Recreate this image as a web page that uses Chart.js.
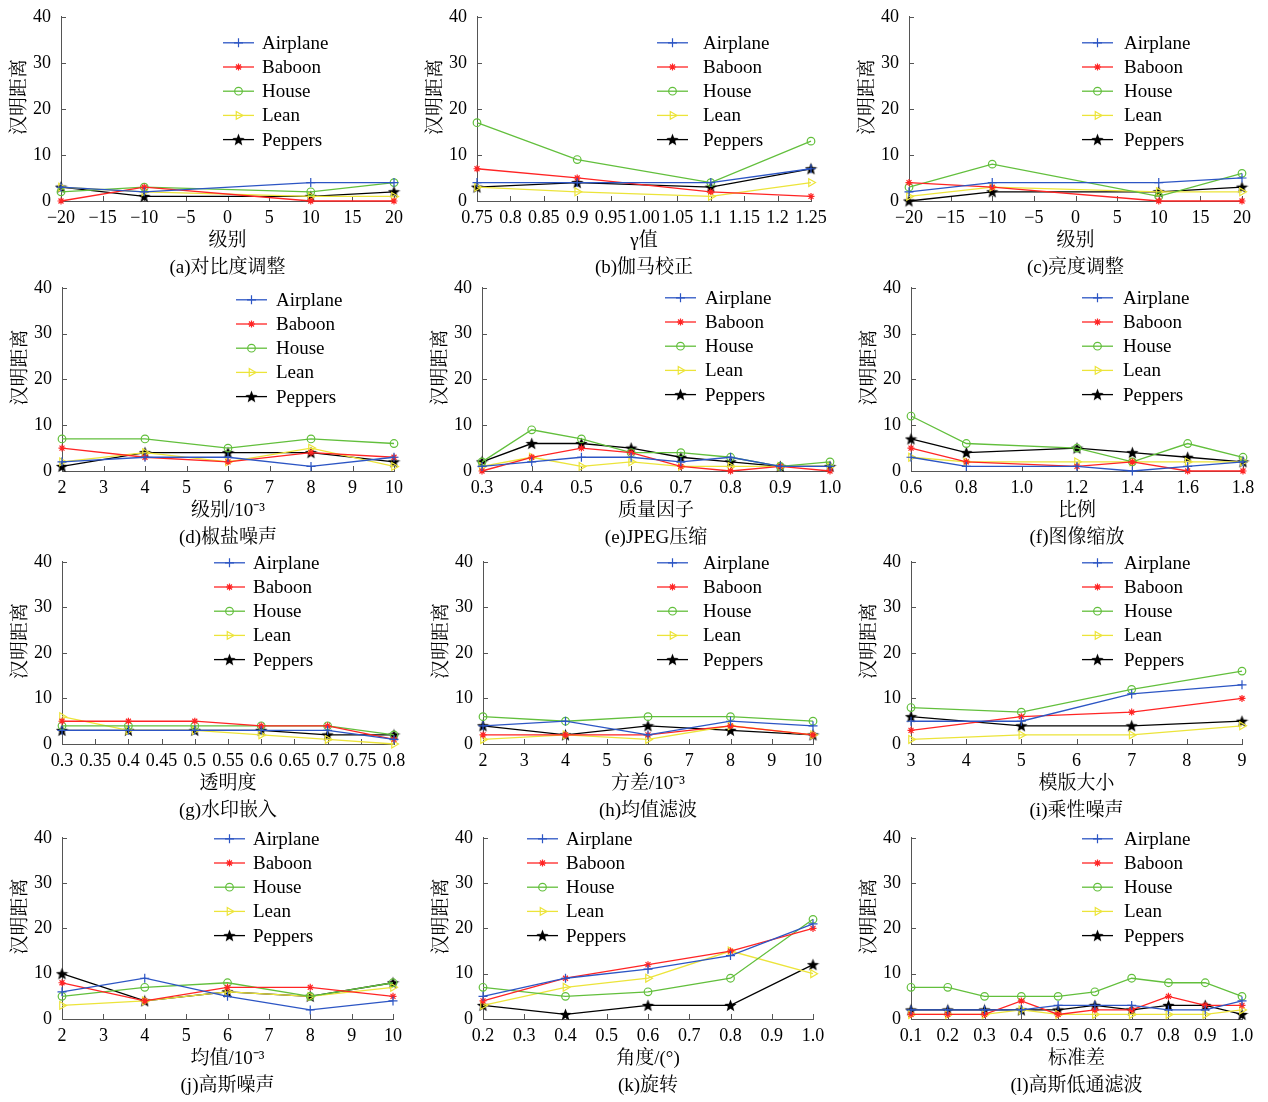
<!DOCTYPE html>
<html>
<head>
<meta charset="utf-8">
<script src="https://cdn.jsdelivr.net/npm/chart.js@4.4.1/dist/chart.umd.min.js"></script>
<style>
body { margin: 0; background: #fff; width: 1268px; height: 1102px; position: relative; overflow: hidden; }
canvas { position: absolute; }
</style>
</head>
<body>
<script>
const seriesNames = ["Airplane", "Baboon", "House", "Lean", "Peppers"];
const yTicks = [0, 10, 20, 30, 40];
const yTickLabels = ["0", "10", "20", "30", "40"];

const levelTicks = [-20, -15, -10, -5, 0, 5, 10, 15, 20];
const levelLabels = ["\u221220", "\u221215", "\u221210", "\u22125", "0", "5", "10", "15", "20"];
const intTicks = [2, 3, 4, 5, 6, 7, 8, 9, 10];
const intLabels = ["2", "3", "4", "5", "6", "7", "8", "9", "10"];

// (a) 对比度调整
const aX = [-20, -10, 10, 20];
const aAirplane = [3, 2, 4, 4];
const aBaboon = [0, 3, 0, 0];
const aHouse = [2, 3, 2, 4];
const aLean = [3, 2, 1, 1];
const aPeppers = [3, 1, 1, 2];

// (b) 伽马校正
const bX = [0.75, 0.9, 1.1, 1.25];
const bTicks = [0.75, 0.8, 0.85, 0.9, 0.95, 1.0, 1.05, 1.1, 1.15, 1.2, 1.25];
const bLabels = ["0.75", "0.8", "0.85", "0.9", "0.95", "1.00", "1.05", "1.1", "1.15", "1.2", "1.25"];
const bAirplane = [4, 4, 4, 7];
const bBaboon = [7, 5, 2, 1];
const bHouse = [17, 9, 4, 13];
const bLean = [3, 2, 1, 4];
const bPeppers = [3, 4, 3, 7];

// (c) 亮度调整
const cX = [-20, -10, 10, 20];
const cAirplane = [2, 4, 4, 5];
const cBaboon = [4, 3, 0, 0];
const cHouse = [3, 8, 1, 6];
const cLean = [1, 3, 2, 2];
const cPeppers = [0, 2, 2, 3];

// (d) 椒盐噪声
const dX = [2, 4, 6, 8, 10];
const dAirplane = [2, 3, 3, 1, 3];
const dBaboon = [5, 3, 2, 4, 3];
const dHouse = [7, 7, 5, 7, 6];
const dLean = [2, 4, 2, 5, 1];
const dPeppers = [1, 4, 4, 4, 2];

// (e) JPEG压缩
const eX = [0.3, 0.4, 0.5, 0.6, 0.7, 0.8, 0.9, 1.0];
const eTicks = [0.3, 0.4, 0.5, 0.6, 0.7, 0.8, 0.9, 1.0];
const eLabels = ["0.3", "0.4", "0.5", "0.6", "0.7", "0.8", "0.9", "1.0"];
const eAirplane = [1, 2, 3, 3, 2, 3, 1, 1];
const eBaboon = [0, 3, 5, 4, 1, 0, 1, 0];
const eHouse = [2, 9, 7, 4, 4, 3, 1, 2];
const eLean = [1, 3, 1, 2, 1, 1, 1, 1];
const ePeppers = [2, 6, 6, 5, 3, 2, 1, 1];

// (f) 图像缩放
const fX = [0.6, 0.8, 1.2, 1.4, 1.6, 1.8];
const fTicks = [0.6, 0.8, 1.0, 1.2, 1.4, 1.6, 1.8];
const fLabels = ["0.6", "0.8", "1.0", "1.2", "1.4", "1.6", "1.8"];
const fAirplane = [3, 1, 1, 0, 1, 2];
const fBaboon = [5, 2, 1, 2, 0, 0];
const fHouse = [12, 6, 5, 2, 6, 3];
const fLean = [3, 2, 2, 2, 2, 2];
const fPeppers = [7, 4, 5, 4, 3, 2];

// (g) 水印嵌入
const gX = [0.3, 0.4, 0.5, 0.6, 0.7, 0.8];
const gTicks = [0.3, 0.35, 0.4, 0.45, 0.5, 0.55, 0.6, 0.65, 0.7, 0.75, 0.8];
const gLabels = ["0.3", "0.35", "0.4", "0.45", "0.5", "0.55", "0.6", "0.65", "0.7", "0.75", "0.8"];
const gAirplane = [3, 3, 3, 3, 3, 1];
const gBaboon = [5, 5, 5, 4, 4, 1];
const gHouse = [4, 4, 4, 4, 4, 2];
const gLean = [6, 3, 3, 2, 1, 0];
const gPeppers = [3, 3, 3, 3, 2, 2];

// (h) 均值滤波
const hX = [2, 4, 6, 8, 10];
const hAirplane = [4, 5, 2, 5, 4];
const hBaboon = [2, 2, 2, 4, 2];
const hHouse = [6, 5, 6, 6, 5];
const hLean = [1, 2, 1, 4, 2];
const hPeppers = [4, 2, 4, 3, 2];

// (i) 乘性噪声
const iX = [3, 5, 7, 9];
const iTicks = [3, 4, 5, 6, 7, 8, 9];
const iLabels = ["3", "4", "5", "6", "7", "8", "9"];
const iAirplane = [5, 5, 11, 13];
const iBaboon = [3, 6, 7, 10];
const iHouse = [8, 7, 12, 16];
const iLean = [1, 2, 2, 4];
const iPeppers = [6, 4, 4, 5];

// (j) 高斯噪声
const jX = [2, 4, 6, 8, 10];
const jAirplane = [6, 9, 5, 2, 4];
const jBaboon = [8, 4, 7, 7, 5];
const jHouse = [5, 7, 8, 5, 8];
const jLean = [3, 4, 6, 5, 7];
const jPeppers = [10, 4, 6, 5, 8];

// (k) 旋转
const kX = [0.2, 0.4, 0.6, 0.8, 1.0];
const kTicks = [0.2, 0.3, 0.4, 0.5, 0.6, 0.7, 0.8, 0.9, 1.0];
const kLabels = ["0.2", "0.3", "0.4", "0.5", "0.6", "0.7", "0.8", "0.9", "1.0"];
const kAirplane = [5, 9, 11, 14, 21];
const kBaboon = [4, 9, 12, 15, 20];
const kHouse = [7, 5, 6, 9, 22];
const kLean = [3, 7, 9, 15, 10];
const kPeppers = [3, 1, 3, 3, 12];

// (l) 高斯低通滤波
const lX = [0.1, 0.2, 0.3, 0.4, 0.5, 0.6, 0.7, 0.8, 0.9, 1.0];
const lLabels = ["0.1", "0.2", "0.3", "0.4", "0.5", "0.6", "0.7", "0.8", "0.9", "1.0"];
const lAirplane = [2, 2, 2, 2, 3, 3, 3, 2, 2, 4];
const lBaboon = [1, 1, 1, 4, 1, 2, 2, 5, 3, 3];
const lHouse = [7, 7, 5, 5, 5, 6, 9, 8, 8, 5];
const lLean = [1, 1, 1, 2, 1, 1, 1, 1, 1, 2];
const lPeppers = [2, 2, 2, 2, 2, 3, 2, 3, 3, 1];

const FONT = '"Liberation Serif", "Noto Serif CJK SC", "Noto Sans CJK SC", serif';

// filled five-point star for Peppers
function makeStar(size) {
    const c = document.createElement("canvas");
    c.width = size; c.height = size;
    const g = c.getContext("2d");
    const cx = size / 2, cy = size / 2 + 0.5, R = size / 2, r = R * 0.42;
    g.beginPath();
    for (let k = 0; k < 10; k++) {
        const rad = k % 2 === 0 ? R : r;
        const ang = -Math.PI / 2 + k * Math.PI / 5;
        g.lineTo(cx + rad * Math.cos(ang), cy + rad * Math.sin(ang));
    }
    g.closePath();
    g.fillStyle = "#000";
    g.fill();
    return c;
}
const starImg = makeStar(13);

const styles = [
    { color: "#2c55c4", point: "cross", radius: 4.5, rotation: 0, fill: "transparent" },
    { color: "#ff2424", point: "star", radius: 3.5, rotation: 0, fill: "#ff2424" },
    { color: "#62bf3c", point: "circle", radius: 3.8, rotation: 0, fill: "transparent" },
    { color: "#ece43a", point: "triangle", radius: 4.5, rotation: 90, fill: "transparent" },
    { color: "#000000", point: starImg, radius: 6, rotation: 0, fill: "#000" }
];

const panels = [
    { left: 61, right: 394, top: 17, bottom: 201, x: aX, series: [aAirplane, aBaboon, aHouse, aLean, aPeppers],
      ticks: levelTicks, labels: levelLabels, xTitle: "级别", caption: "(a)对比度调整", legend: { x: 162, y: 26, tx: 201 } },
    { left: 477, right: 811, top: 17, bottom: 201, x: bX, series: [bAirplane, bBaboon, bHouse, bLean, bPeppers],
      ticks: bTicks, labels: bLabels, xTitle: "γ值", caption: "(b)伽马校正", legend: { x: 180, y: 26, tx: 226 } },
    { left: 909, right: 1242, top: 17, bottom: 201, x: cX, series: [cAirplane, cBaboon, cHouse, cLean, cPeppers],
      ticks: levelTicks, labels: levelLabels, xTitle: "级别", caption: "(c)亮度调整", legend: { x: 173, y: 26, tx: 215 } },
    { left: 62, right: 394, top: 288, bottom: 471, x: dX, series: [dAirplane, dBaboon, dHouse, dLean, dPeppers],
      ticks: intTicks, labels: intLabels, xTitle: "级别/10⁻³", caption: "(d)椒盐噪声", legend: { x: 174, y: 12, tx: 214 } },
    { left: 482, right: 830, top: 288, bottom: 471, x: eX, series: [eAirplane, eBaboon, eHouse, eLean, ePeppers],
      ticks: eTicks, labels: eLabels, xTitle: "质量因子", caption: "(e)JPEG压缩", legend: { x: 183, y: 10, tx: 223 } },
    { left: 911, right: 1243, top: 288, bottom: 471, x: fX, series: [fAirplane, fBaboon, fHouse, fLean, fPeppers],
      ticks: fTicks, labels: fLabels, xTitle: "比例", caption: "(f)图像缩放", legend: { x: 171, y: 10, tx: 212 } },
    { left: 62, right: 394, top: 562, bottom: 744, x: gX, series: [gAirplane, gBaboon, gHouse, gLean, gPeppers],
      ticks: gTicks, labels: gLabels, xTitle: "透明度", caption: "(g)水印嵌入", legend: { x: 152, y: 1, tx: 191 } },
    { left: 483, right: 813, top: 562, bottom: 744, x: hX, series: [hAirplane, hBaboon, hHouse, hLean, hPeppers],
      ticks: intTicks, labels: intLabels, xTitle: "方差/10⁻³", caption: "(h)均值滤波", legend: { x: 174, y: 1, tx: 220 } },
    { left: 911, right: 1242, top: 562, bottom: 744, x: iX, series: [iAirplane, iBaboon, iHouse, iLean, iPeppers],
      ticks: iTicks, labels: iLabels, xTitle: "模版大小", caption: "(i)乘性噪声", legend: { x: 171, y: 1, tx: 213 } },
    { left: 62, right: 393, top: 838, bottom: 1019, x: jX, series: [jAirplane, jBaboon, jHouse, jLean, jPeppers],
      ticks: intTicks, labels: intLabels, xTitle: "均值/10⁻³", caption: "(j)高斯噪声", legend: { x: 152, y: 1, tx: 191 } },
    { left: 483, right: 813, top: 838, bottom: 1019, x: kX, series: [kAirplane, kBaboon, kHouse, kLean, kPeppers],
      ticks: kTicks, labels: kLabels, xTitle: "角度/(°)", caption: "(k)旋转", legend: { x: 44, y: 1, tx: 83 } },
    { left: 911, right: 1242, top: 838, bottom: 1019, x: lX, series: [lAirplane, lBaboon, lHouse, lLean, lPeppers],
      ticks: lX, labels: lLabels, xTitle: "标准差", caption: "(l)高斯低通滤波", legend: { x: 171, y: 1, tx: 213 } }
];

// legend drawn inside the plot, MATLAB style
const panelLegend = {
    id: "panelLegend",
    afterDraw(chart, args, opts) {
        const ctx = chart.ctx;
        const a = chart.chartArea;
        ctx.save();
        chart.data.datasets.forEach((ds, i) => {
            const x0 = a.left + opts.x;
            const y = a.top + opts.y + i * 24.2;
            ctx.strokeStyle = ds.borderColor;
            ctx.lineWidth = ds.borderWidth;
            ctx.beginPath();
            ctx.moveTo(x0, y);
            ctx.lineTo(x0 + 31, y);
            ctx.stroke();
            ctx.fillStyle = ds.pointBackgroundColor;
            ctx.strokeStyle = ds.pointBorderColor;
            ctx.lineWidth = ds.pointBorderWidth;
            Chart.helpers.drawPoint(ctx, {
                pointStyle: ds.pointStyle,
                radius: ds.pointRadius,
                rotation: ds.pointRotation,
                borderWidth: ds.pointBorderWidth
            }, x0 + 15.5, y);
            ctx.fillStyle = "#000";
            ctx.font = "19px " + FONT;
            ctx.textBaseline = "middle";
            ctx.textAlign = "left";
            ctx.fillText(ds.label, a.left + opts.tx, y + 1);
        });
        ctx.restore();
    }
};

// short ticks pointing into the plot
const inTicks = {
    id: "inTicks",
    beforeDatasetsDraw(chart) {
        const ctx = chart.ctx;
        const a = chart.chartArea;
        const sx = chart.scales.x, sy = chart.scales.y;
        ctx.save();
        ctx.strokeStyle = "#555";
        ctx.lineWidth = 1;
        ctx.beginPath();
        sx.ticks.forEach((t, i) => {
            const px = Math.round(sx.getPixelForTick(i)) + 0.5;
            ctx.moveTo(px, a.bottom);
            ctx.lineTo(px, a.bottom - 5);
        });
        sy.ticks.forEach((t, i) => {
            const py = Math.round(sy.getPixelForTick(i)) + 0.5;
            ctx.moveTo(a.left, py);
            ctx.lineTo(a.left + 5, py);
        });
        ctx.stroke();
        ctx.restore();
    }
};

function panelConfig(p) {
    return {
        type: "line",
        data: {
            datasets: p.series.map((vals, i) => ({
                label: seriesNames[i],
                data: p.x.map((xv, j) => ({ x: xv, y: vals[j] })),
                borderColor: styles[i].color,
                backgroundColor: styles[i].color,
                borderWidth: 1.3,
                pointStyle: styles[i].point,
                pointRadius: styles[i].radius,
                pointRotation: styles[i].rotation,
                pointBorderColor: styles[i].color,
                pointBackgroundColor: styles[i].fill,
                pointBorderWidth: 1.2,
                tension: 0,
                clip: false
            }))
        },
        options: {
            responsive: false,
            animation: false,
            devicePixelRatio: 1,
            layout: { padding: { left: 10, top: 17, right: 32, bottom: 0 } },
            plugins: {
                legend: { display: false },
                tooltip: { enabled: false },
                panelLegend: p.legend
            },
            scales: {
                x: {
                    type: "linear",
                    min: p.ticks[0],
                    max: p.ticks[p.ticks.length - 1],
                    afterBuildTicks: s => { s.ticks = p.ticks.map(v => ({ value: v })); },
                    afterFit: s => { s.height = 80; },
                    grid: { drawOnChartArea: false, drawTicks: false },
                    border: { color: "#555", width: 1 },
                    ticks: {
                        autoSkip: false,
                        maxRotation: 0,
                        padding: 8,
                        color: "#000",
                        font: { family: FONT, size: 18, lineHeight: 1 },
                        callback: (v, i) => p.labels[i]
                    },
                    title: {
                        display: true,
                        text: [p.xTitle, p.caption],
                        color: "#000",
                        font: { family: FONT, size: 19, lineHeight: 1.4 },
                        padding: { top: 0, bottom: 0 }
                    }
                },
                y: {
                    min: 0,
                    max: 40,
                    afterBuildTicks: s => { s.ticks = yTicks.map(v => ({ value: v })); },
                    afterFit: s => { s.width = 52; },
                    grid: { drawOnChartArea: false, drawTicks: false },
                    border: { color: "#555", width: 1 },
                    ticks: {
                        padding: 10,
                        color: "#000",
                        font: { family: FONT, size: 18 },
                        callback: (v, i) => yTickLabels[i]
                    },
                    title: {
                        display: true,
                        text: "\u3000 汉明距离",
                        color: "#000",
                        font: { family: FONT, size: 19 },
                        padding: 0
                    }
                }
            }
        },
        plugins: [inTicks, panelLegend]
    };
}

function sizeCanvas(canvas, w, h) {
    canvas.width = w;
    canvas.height = h;
    canvas.style.width = w + "px";
    canvas.style.height = h + "px";
}

function makePanel(p) {
    const canvas = document.createElement("canvas");
    let w = (p.right - p.left) + 62 + 32;
    let h = 17 + (p.bottom - p.top) + 80;
    sizeCanvas(canvas, w, h);
    canvas.style.left = (p.left - 62) + "px";
    canvas.style.top = (p.top - 17) + "px";
    document.body.appendChild(canvas);

    let chart = new Chart(canvas, panelConfig(p));
    let a = chart.chartArea;
    const dw = (p.right - p.left) - (a.right - a.left);
    const dh = (p.bottom - p.top) - (a.bottom - a.top);
    if (Math.abs(dw) > 0.2 || Math.abs(dh) > 0.2) {
        chart.destroy();
        w = Math.round(w + dw);
        h = Math.round(h + dh);
        sizeCanvas(canvas, w, h);
        chart = new Chart(canvas, panelConfig(p));
        a = chart.chartArea;
    }
    canvas.style.left = Math.round(p.left - a.left) + "px";
    canvas.style.top = Math.round(p.top - a.top) + "px";
}

window.onload = function () {
    panels.forEach(makePanel);
};
</script>
</body>
</html>
